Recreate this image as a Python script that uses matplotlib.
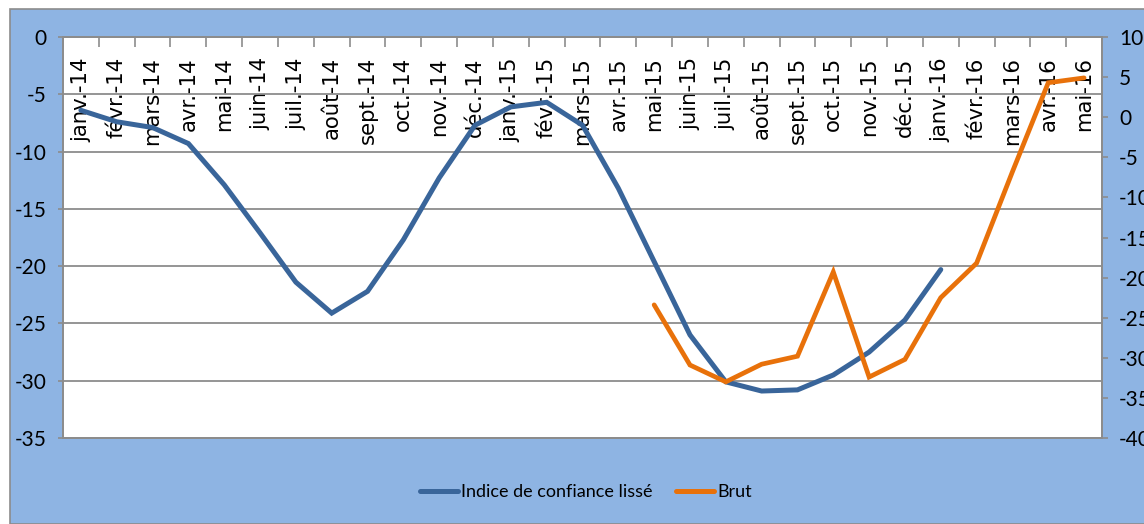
import matplotlib
matplotlib.use("Agg")
import matplotlib.pyplot as plt
from matplotlib.patches import Rectangle
from matplotlib.lines import Line2D
import numpy as np

months = ["janv.-14", "févr.-14", "mars-14", "avr.-14", "mai-14", "juin-14", "juil.-14",
          "août-14", "sept.-14", "oct.-14", "nov.-14", "déc.-14",
          "janv.-15", "févr.-15", "mars-15", "avr.-15", "mai-15", "juin-15", "juil.-15",
          "août-15", "sept.-15", "oct.-15", "nov.-15", "déc.-15",
          "janv.-16", "févr.-16", "mars-16", "avr.-16", "mai-16"]

# Smoothed confidence index (left axis), janv.-14 .. janv.-16
indice_lisse = [-6.4, -7.4, -7.9, -9.3, -12.9, -17.1, -21.4, -24.1, -22.2, -17.7, -12.3, -7.7,
                -6.1, -5.7, -7.7, -13.2, -19.6, -26.0, -30.1, -30.9, -30.8, -29.5, -27.5, -24.7,
                -20.3]
# Raw index (right axis), mai-15 .. mai-16
brut = [-23.4, -30.9, -33.0, -30.8, -29.8, -19.3, -32.4, -30.2, -22.5, -18.2, -6.8, 4.3, 4.9]
brut_start = 16

left_ticks = [0, -5, -10, -15, -20, -25, -30, -35]
right_ticks = [10, 5, 0, -5, -10, -15, -20, -25, -30, -35, -40]

plt.rcParams["font.family"] = ["DejaVu Sans"]
fam = ["Lato", "DejaVu Sans"]

W, H = 1144, 524
fig = plt.figure(figsize=(W / 100, H / 100), dpi=100, facecolor="white")

# blue chart background with thin gray border
bg = Rectangle((10 / W, 0), 1.0, (H - 9) / H, transform=fig.transFigure,
               facecolor="#8EB4E3", edgecolor="#8C8C8C", linewidth=1.2, zorder=-10)
fig.patches.append(bg)

ax = fig.add_axes([63 / W, (H - 438) / H, (1102 - 63) / W, (438 - 37) / H])
ax.set_facecolor("white")
n = len(months)
x = np.arange(n)
blue = "#39659A"
orange = "#E8710A"
gray = "#8C8C8C"

ax.plot(x[:len(indice_lisse)], indice_lisse, color=blue, lw=3.6, solid_capstyle="round",
        solid_joinstyle="miter", zorder=3)
ax.set_xlim(-0.5, n - 0.5)
ax.set_ylim(-35, 0)
ax.set_yticks(left_ticks)
ax.set_yticklabels([str(v) for v in left_ticks], fontsize=15, family=fam)
ax.yaxis.grid(True, color=gray, lw=1.3)
ax.set_axisbelow(True)
ax.tick_params(axis="y", direction="out", length=3.6, width=1.2, color=gray, pad=8)

# category axis at the top
ax.xaxis.set_ticks_position("top")
ax.set_xticks(np.arange(-0.5, n, 1.0))
ax.set_xticklabels([])
ax.set_xticks(x, minor=True)
ax.set_xticklabels(months, minor=True, rotation=90)
ax.tick_params(axis="x", which="major", direction="in", length=7, width=1.2, color=gray,
               top=True, bottom=False, labeltop=False, labelbottom=False)
ax.tick_params(axis="x", which="minor", length=0, top=True, bottom=False,
               labeltop=True, labelbottom=False, pad=-14.5, labelsize=15.3)
for lbl in ax.get_xticklabels(minor=True):
    lbl.set_va("top")
    lbl.set_ha("center")

for s in ax.spines.values():
    s.set_color(gray)
    s.set_linewidth(1.3)

ax2 = ax.twinx()
ax2.plot(x[brut_start:brut_start + len(brut)], brut, color=orange, lw=3.4,
         solid_capstyle="round", solid_joinstyle="miter", zorder=4)
ax2.set_ylim(-40, 10)
ax2.set_yticks(right_ticks)
ax2.set_yticklabels([str(v) for v in right_ticks], fontsize=15, family=fam)
ax2.tick_params(axis="y", direction="out", length=4.3, width=1.2, color=gray, pad=8)
for s in ax2.spines.values():
    s.set_color(gray)
    s.set_linewidth(1.3)

handles = [Line2D([], [], color=blue, lw=3.6, solid_capstyle="round"),
           Line2D([], [], color=orange, lw=3.6, solid_capstyle="round")]
fig.legend(handles, ["Indice de confiance lissé", "Brut"], loc="center",
           bbox_to_anchor=(586 / W, 32 / H), ncol=2, frameon=False,
           prop={"family": fam, "size": 13.0}, handlelength=2.1, handletextpad=0.2,
           columnspacing=1.3)

fig.savefig("out.png", dpi=100, facecolor="white")
